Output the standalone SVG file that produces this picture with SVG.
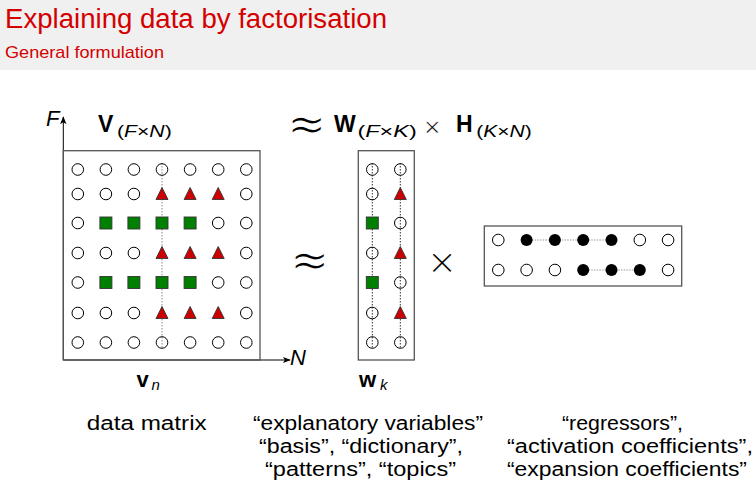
<svg xmlns="http://www.w3.org/2000/svg" xmlns:xlink="http://www.w3.org/1999/xlink" width="756" height="496" viewBox="0 0 756 496">
<style>
.t{font-family:"Liberation Sans",Arial,sans-serif;fill:#000}
.red{fill:#d40000}
.b{font-weight:bold}
.i{font-style:italic}
.sym{font-family:"DejaVu Sans",sans-serif;fill:#000;stroke:#fff;stroke-width:1.2}
.box{fill:none;stroke:#555;stroke-width:1.3}
.axis{stroke:#000;stroke-width:1;fill:none}
.dotg{stroke:#888;stroke-width:1;stroke-dasharray:1.5 1.5;fill:none}
.dotk{stroke:#333;stroke-width:1;stroke-dasharray:1.5 1.5;fill:none}
.doth{stroke:#999;stroke-width:1.2;stroke-dasharray:1.5 1.2;fill:none}
</style>
<defs>
<circle id="oc" r="5.8" fill="none" stroke="#000" stroke-width="1"/>
<circle id="fc" r="6" fill="#000"/>
<rect id="sq" x="-6" y="-6" width="12" height="12" fill="#008000" stroke="#333" stroke-width="0.9"/>
<path id="tri" d="M0,-6.5 L6,5.5 L-6,5.5 Z" fill="#cc0000" stroke="#333" stroke-width="0.9"/>
<marker id="ah" viewBox="0 0 10 10" refX="9" refY="5" markerWidth="8" markerHeight="8" markerUnits="userSpaceOnUse" orient="auto">
<path d="M0,1 L10,5 L0,9 L2.5,5 Z" fill="#000"/>
</marker>
</defs>
<rect width="756" height="496" fill="#fff"/>
<g id="header">
<rect x="0" y="0" width="756" height="70" fill="#f0f0f0"/>
<text class="t red" x="5" y="28" font-size="27" textLength="382" lengthAdjust="spacingAndGlyphs">Explaining data by factorisation</text>
<text class="t red" x="5" y="58" font-size="17" textLength="159" lengthAdjust="spacingAndGlyphs">General formulation</text>
</g>
<g id="connectors">
<line class="axis" x1="63.3" y1="360" x2="63.3" y2="117" marker-end="url(#ah)"/>
<line class="axis" x1="63.3" y1="360" x2="290" y2="360" marker-end="url(#ah)"/>
<line class="dotg" x1="162" y1="163" x2="162" y2="349"/>
<line class="dotk" x1="372.3" y1="163" x2="372.3" y2="349"/>
<line class="dotk" x1="400.3" y1="163" x2="400.3" y2="349"/>
<line class="doth" x1="526.6" y1="240" x2="611.5" y2="240"/>
<line class="doth" x1="583.2" y1="270" x2="639.8" y2="270"/>
</g>
<g id="matrixV">
<rect class="box" x="63.3" y="150.7" width="196.7" height="209.3"/>
<g>
<use xlink:href="#oc" x="77.8" y="169.5"/><use xlink:href="#oc" x="105.9" y="169.5"/><use xlink:href="#oc" x="133.9" y="169.5"/><use xlink:href="#oc" x="162" y="169.5"/><use xlink:href="#oc" x="190.1" y="169.5"/><use xlink:href="#oc" x="218.2" y="169.5"/><use xlink:href="#oc" x="246.3" y="169.5"/>
<use xlink:href="#oc" x="77.8" y="194"/><use xlink:href="#oc" x="105.9" y="194"/><use xlink:href="#oc" x="133.9" y="194"/><use xlink:href="#tri" x="162" y="194"/><use xlink:href="#tri" x="190.1" y="194"/><use xlink:href="#tri" x="218.2" y="194"/><use xlink:href="#oc" x="246.3" y="194"/>
<use xlink:href="#oc" x="77.8" y="223"/><use xlink:href="#sq" x="105.9" y="223"/><use xlink:href="#sq" x="133.9" y="223"/><use xlink:href="#sq" x="162" y="223"/><use xlink:href="#sq" x="190.1" y="223"/><use xlink:href="#oc" x="218.2" y="223"/><use xlink:href="#oc" x="246.3" y="223"/>
<use xlink:href="#oc" x="77.8" y="253"/><use xlink:href="#oc" x="105.9" y="253"/><use xlink:href="#oc" x="133.9" y="253"/><use xlink:href="#tri" x="162" y="253"/><use xlink:href="#tri" x="190.1" y="253"/><use xlink:href="#tri" x="218.2" y="253"/><use xlink:href="#oc" x="246.3" y="253"/>
<use xlink:href="#oc" x="77.8" y="282.5"/><use xlink:href="#sq" x="105.9" y="282.5"/><use xlink:href="#sq" x="133.9" y="282.5"/><use xlink:href="#sq" x="162" y="282.5"/><use xlink:href="#sq" x="190.1" y="282.5"/><use xlink:href="#oc" x="218.2" y="282.5"/><use xlink:href="#oc" x="246.3" y="282.5"/>
<use xlink:href="#oc" x="77.8" y="313"/><use xlink:href="#oc" x="105.9" y="313"/><use xlink:href="#oc" x="133.9" y="313"/><use xlink:href="#tri" x="162" y="313"/><use xlink:href="#tri" x="190.1" y="313"/><use xlink:href="#tri" x="218.2" y="313"/><use xlink:href="#oc" x="246.3" y="313"/>
<use xlink:href="#oc" x="77.8" y="342.5"/><use xlink:href="#oc" x="105.9" y="342.5"/><use xlink:href="#oc" x="133.9" y="342.5"/><use xlink:href="#oc" x="162" y="342.5"/><use xlink:href="#oc" x="190.1" y="342.5"/><use xlink:href="#oc" x="218.2" y="342.5"/><use xlink:href="#oc" x="246.3" y="342.5"/>
</g>
</g>
<g id="matrixW">
<rect class="box" x="358.3" y="150.7" width="56" height="209.3"/>
<use xlink:href="#oc" x="372.3" y="169.5"/><use xlink:href="#oc" x="400.3" y="169.5"/>
<use xlink:href="#oc" x="372.3" y="194"/><use xlink:href="#tri" x="400.3" y="194"/>
<use xlink:href="#sq" x="372.3" y="223"/><use xlink:href="#oc" x="400.3" y="223"/>
<use xlink:href="#oc" x="372.3" y="253"/><use xlink:href="#tri" x="400.3" y="253"/>
<use xlink:href="#sq" x="372.3" y="282.5"/><use xlink:href="#oc" x="400.3" y="282.5"/>
<use xlink:href="#oc" x="372.3" y="313"/><use xlink:href="#tri" x="400.3" y="313"/>
<use xlink:href="#oc" x="372.3" y="342.5"/><use xlink:href="#oc" x="400.3" y="342.5"/>
</g>
<g id="matrixH">
<rect class="box" x="484.3" y="226" width="197.4" height="60"/>
<use xlink:href="#oc" x="498.3" y="240"/><use xlink:href="#fc" x="526.6" y="240"/><use xlink:href="#fc" x="554.9" y="240"/><use xlink:href="#fc" x="583.2" y="240"/><use xlink:href="#fc" x="611.5" y="240"/><use xlink:href="#oc" x="639.8" y="240"/><use xlink:href="#oc" x="668.1" y="240"/>
<use xlink:href="#oc" x="498.3" y="270"/><use xlink:href="#oc" x="526.6" y="270"/><use xlink:href="#oc" x="554.9" y="270"/><use xlink:href="#fc" x="583.2" y="270"/><use xlink:href="#fc" x="611.5" y="270"/><use xlink:href="#fc" x="639.8" y="270"/><use xlink:href="#oc" x="668.1" y="270"/>
</g>
<g id="labels">
<text class="t i" x="46" y="126" font-size="22">F</text>
<text class="t i" x="290" y="365" font-size="22">N</text>
<text class="t b" x="98" y="132" font-size="23">V</text>
<text class="t" x="117" y="136.5" font-size="17" textLength="54.7" lengthAdjust="spacingAndGlyphs">(<tspan class="i">F</tspan>×<tspan class="i">N</tspan>)</text>
<text class="sym" x="287" y="140" font-size="47">≈</text>
<text class="t b" x="334" y="132" font-size="23">W</text>
<text class="t" x="357.5" y="136.5" font-size="17" textLength="59.2" lengthAdjust="spacingAndGlyphs">(<tspan class="i">F</tspan>×<tspan class="i">K</tspan>)</text>
<text class="sym" x="423" y="134" font-size="22" style="stroke-width:0.6">×</text>
<text class="t b" x="456" y="132" font-size="23">H</text>
<text class="t" x="476.2" y="136.5" font-size="17" textLength="55.5" lengthAdjust="spacingAndGlyphs">(<tspan class="i">K</tspan>×<tspan class="i">N</tspan>)</text>
<text class="sym" x="290" y="276" font-size="47">≈</text>
<text class="sym" x="427" y="274" font-size="36">×</text>
<text class="t b" x="136.5" y="387" font-size="22">v</text>
<text class="t i" x="151.5" y="390" font-size="15">n</text>
<text class="t b" x="359" y="387" font-size="22">w</text>
<text class="t i" x="380" y="390" font-size="15">k</text>
<text class="t" x="86.7" y="430" font-size="20" textLength="120" lengthAdjust="spacingAndGlyphs">data matrix</text>
<text class="t" x="253" y="430" font-size="20" textLength="230" lengthAdjust="spacingAndGlyphs">“explanatory variables”</text>
<text class="t" x="259" y="453" font-size="20" textLength="204" lengthAdjust="spacingAndGlyphs">“basis”, “dictionary”,</text>
<text class="t" x="265" y="476" font-size="20" textLength="191" lengthAdjust="spacingAndGlyphs">“patterns”, “topics”</text>
<text class="t" x="562" y="430" font-size="20" textLength="121" lengthAdjust="spacingAndGlyphs">“regressors”,</text>
<text class="t" x="507" y="453" font-size="20" textLength="246" lengthAdjust="spacingAndGlyphs">“activation coefficients”,</text>
<text class="t" x="507" y="476" font-size="20" textLength="240" lengthAdjust="spacingAndGlyphs">“expansion coefficients”</text>
</g>
</svg>
